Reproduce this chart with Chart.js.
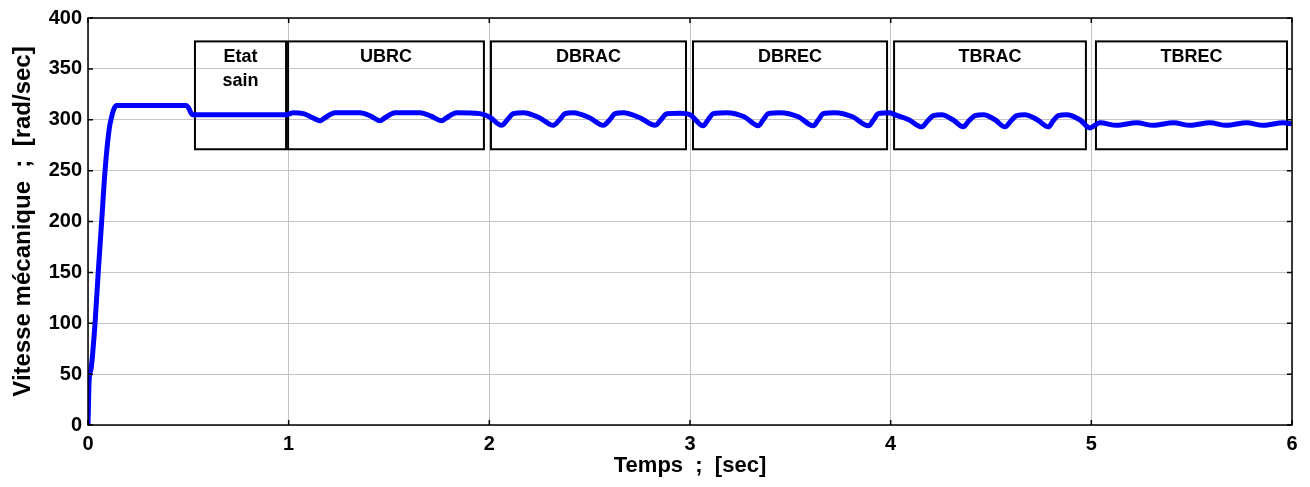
<!DOCTYPE html>
<html lang="fr">
<head>
<meta charset="utf-8">
<script src="https://cdn.jsdelivr.net/npm/chart.js@4"></script>
<style>
  html, body { margin: 0; padding: 0; background: #fff; }
  #cadre { width: 1310px; height: 487px; }
</style>
</head>
<body>
<div id="cadre"><canvas id="vitesseChart"></canvas></div>
<script>
// Temps (s) et vitesse mécanique (rad/s)
const temps = [
  0, 0.006, 0.015, 0.035, 0.051, 0.068, 0.085, 0.105, 0.118, 0.13, 0.143, 0.49, 0.5, 0.52, 0.55, 0.99,
  1.0, 1.023, 1.073, 1.12, 1.156, 1.181, 1.231, 1.355, 1.41, 1.455, 1.48, 1.53, 1.655, 1.71, 1.762, 1.787, 1.837, 1.953,
  2.003, 2.061, 2.09, 2.119, 2.169, 2.25, 2.319, 2.35, 2.377, 2.418, 2.5, 2.568, 2.6, 2.626, 2.668, 2.75, 2.826, 2.855, 2.884, 2.95,
  3.0, 3.066, 3.09, 3.116, 3.183, 3.27, 3.34, 3.365, 3.39, 3.448, 3.54, 3.614, 3.64, 3.664, 3.723, 3.81, 3.889, 3.915, 3.938, 3.997,
  4.013, 4.09, 4.155, 4.185, 4.213, 4.254, 4.31, 4.362, 4.39, 4.42, 4.462, 4.52, 4.57, 4.6, 4.628, 4.669, 4.73, 4.786, 4.81, 4.835, 4.877, 4.943, 4.993,
  5.043, 5.126, 5.226, 5.309, 5.409, 5.492, 5.591, 5.674, 5.774, 5.857, 5.957, 6.0
];
const vitesse = [
  0, 45, 55, 100, 150, 200, 250, 290, 303, 311, 314, 314, 312, 305, 305, 305,
  305.5, 307, 306, 302, 299, 302, 307, 307, 303.5, 299, 302, 307, 307, 303.5, 299, 302, 307, 306,
  302.5, 294.5, 300, 306, 307, 302, 294.5, 300, 306, 307, 302, 294.5, 300, 306, 307, 302, 294.5, 300, 306, 306.5,
  305, 294, 300, 306, 307, 303, 294, 300, 306, 307, 303, 294, 300, 306, 307, 303, 294, 300, 306, 307,
  305.5, 300, 293, 299, 304, 305, 300, 293, 299, 304, 305, 300, 293, 299, 304, 305, 300, 293, 299, 304, 305, 300, 292,
  297, 294.5, 297, 294.5, 297, 294.5, 297, 294.5, 297, 294.5, 297, 296
];

// Zones de défaut (cadres annotés)
const zoneNoms = ['Etat\nsain', 'UBRC', 'DBRAC', 'DBREC', 'TBRAC', 'TBREC'];
const zoneDebut = [0.533, 0.997, 2.008, 3.015, 4.017, 5.023];
const zoneFin = [0.987, 1.973, 2.980, 3.982, 4.973, 5.975];
const zoneHaut = 377;
const zoneBas = 271;

const police = 'Arial, "Liberation Sans", sans-serif';
Chart.defaults.font.family = police;
Chart.defaults.color = '#000';

// Cadres des zones + contour des axes façon MATLAB
const zonesPlugin = {
  id: 'zones',
  beforeDatasetsDraw(chart) {
    const { ctx, scales: { x, y } } = chart;
    ctx.save();
    ctx.strokeStyle = '#000';
    ctx.lineWidth = 2;
    ctx.fillStyle = '#000';
    ctx.font = 'bold 18px ' + police;
    ctx.textAlign = 'center';
    ctx.textBaseline = 'middle';
    zoneNoms.forEach((nom, i) => {
      const x0 = x.getPixelForValue(zoneDebut[i]);
      const x1 = x.getPixelForValue(zoneFin[i]);
      const yH = y.getPixelForValue(zoneHaut);
      const yB = y.getPixelForValue(zoneBas);
      ctx.strokeRect(x0, yH, x1 - x0, yB - yH);
      nom.split('\n').forEach((ligne, k) => {
        ctx.fillText(ligne, (x0 + x1) / 2, yH + 16 + k * 24);
      });
    });
    ctx.restore();
  },
  afterDraw(chart) {
    const { ctx, chartArea: a, scales: { x, y } } = chart;
    ctx.save();
    ctx.strokeStyle = '#000';
    ctx.lineWidth = 1.5;
    ctx.strokeRect(a.left, a.top, a.right - a.left, a.bottom - a.top);
    ctx.beginPath();
    y.ticks.forEach(t => {
      const p = y.getPixelForValue(t.value);
      ctx.moveTo(a.left, p); ctx.lineTo(a.left + 5, p);
      ctx.moveTo(a.right, p); ctx.lineTo(a.right - 5, p);
    });
    x.ticks.forEach(t => {
      const p = x.getPixelForValue(t.value);
      ctx.moveTo(p, a.bottom); ctx.lineTo(p, a.bottom - 5);
      ctx.moveTo(p, a.top); ctx.lineTo(p, a.top + 5);
    });
    ctx.stroke();
    ctx.restore();
  }
};

const ctx = document.getElementById('vitesseChart').getContext('2d');
const vitesseChart = new Chart(ctx, {
  type: 'line',
  data: {
    datasets: [{
      data: temps.map((t, i) => ({ x: t, y: vitesse[i] })),
      borderColor: '#0000ff',
      borderWidth: 5,
      pointRadius: 0,
      cubicInterpolationMode: 'monotone',
      fill: false
    }]
  },
  options: {
    responsive: true,
    maintainAspectRatio: false,
    animation: false,
    layout: { padding: { left: 0, right: 18, top: 17, bottom: 0 } },
    plugins: { legend: { display: false }, tooltip: { enabled: false } },
    scales: {
      x: {
        type: 'linear',
        min: 0,
        max: 6,
        afterFit: s => { s.height = 62; },
        ticks: { stepSize: 1, padding: 7, font: { size: 20, weight: 'bold' }, color: '#000' },
        grid: { color: '#c4c4c4', drawTicks: false },
        border: { display: false },
        title: { display: true, text: 'Temps  ;  [sec]', font: { size: 22, weight: 'bold' }, color: '#000', padding: { top: 0, bottom: 8 } }
      },
      y: {
        min: 0,
        max: 400,
        afterFit: s => { s.width = 88; },
        ticks: { stepSize: 50, padding: 6, font: { size: 20, weight: 'bold' }, color: '#000' },
        grid: { color: '#c4c4c4', drawTicks: false },
        border: { display: false },
        title: { display: true, text: 'Vitesse mécanique  ;  [rad/sec]', font: { size: 24, weight: 'bold' }, color: '#000', padding: { top: 9, bottom: 0 } }
      }
    }
  },
  plugins: [zonesPlugin]
});
</script>
</body>
</html>
